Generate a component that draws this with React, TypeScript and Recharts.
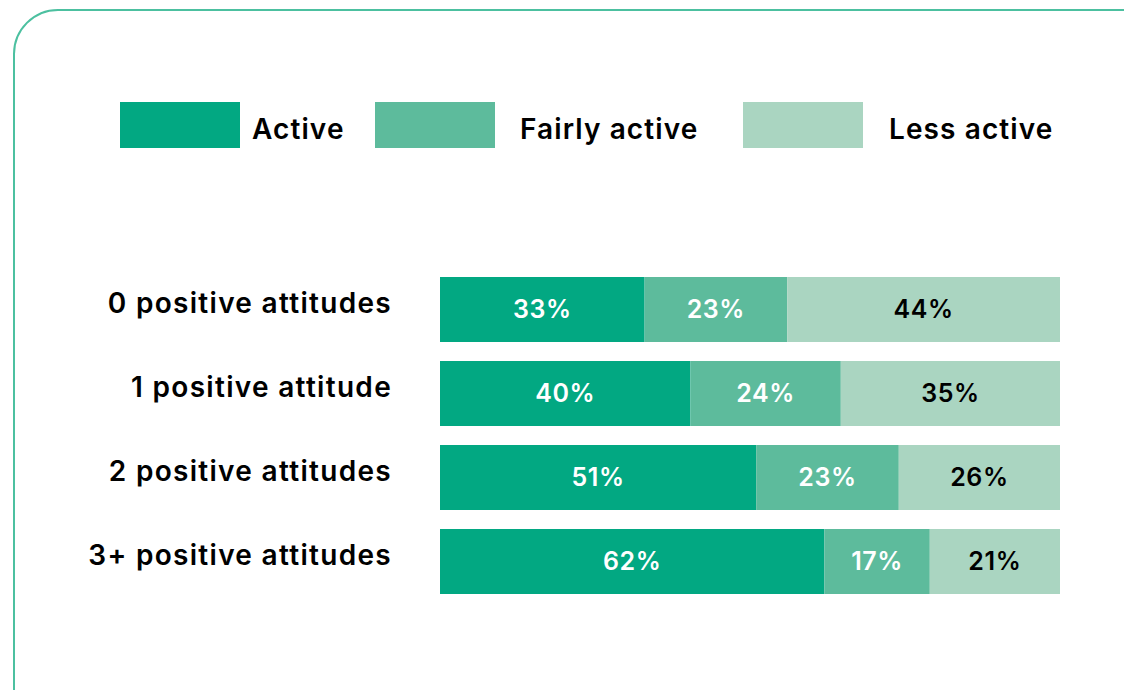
import { BarChart, Bar, XAxis, YAxis, LabelList } from 'recharts'

const categories = ['0 positive attitudes', '1 positive attitude', '2 positive attitudes', '3+ positive attitudes']
const active = [33, 40, 51, 62]
const fairlyActive = [23, 24, 23, 17]
const lessActive = [44, 35, 26, 21]

const seriesNames = ['Active', 'Fairly active', 'Less active']
const seriesColors = ['#02a882', '#5dbb9c', '#aad5c1']

const chartData = categories.map((name, i) => ({
  name,
  active: active[i],
  fairly: fairlyActive[i],
  less: lessActive[i],
}))

const FONT = 'Inter, "Open Sans", sans-serif'

const legendPos = [
  { box: 120, text: 252 },
  { box: 375, text: 520 },
  { box: 743, text: 889 },
]

function Legend() {
  return (
    <>
      {seriesNames.map((name, i) => (
        <div key={name}>
          <div
            style={{
              position: 'absolute',
              left: legendPos[i].box,
              top: 102,
              width: 120,
              height: 46,
              background: seriesColors[i],
            }}
          />
          <div
            style={{
              position: 'absolute',
              left: legendPos[i].text,
              top: 109,
              fontFamily: FONT,
              fontWeight: 600,
              fontSize: 28,
              letterSpacing: 1.1,
              color: '#000',
              lineHeight: '40px',
              whiteSpace: 'nowrap',
            }}
          >
            {name}
          </div>
        </div>
      ))}
    </>
  )
}

export default function App() {
  const pct = (v: any) => `${v}%`
  const labelStyle = { fontSize: 25, fontWeight: 600, fontFamily: FONT, letterSpacing: 0.6 }
  return (
    <div style={{ position: 'absolute', left: 0, top: 0, width: 1124, height: 690, overflow: 'hidden', background: '#fff' }}>
      <div
        style={{
          position: 'absolute',
          left: 13,
          top: 9,
          width: 1300,
          height: 900,
          border: '2px solid #4cc0a0',
          borderTopLeftRadius: 45,
        }}
      />
      <Legend />
      <div style={{ position: 'absolute', left: 0, top: 0 }}>
        <BarChart
          width={1124}
          height={690}
          data={chartData}
          layout="vertical"
          stackOffset="expand"
          barSize={65}
          margin={{ top: 267, right: 64, bottom: 87, left: 0 }}
        >
          <XAxis type="number" hide domain={[0, 1]} />
          <YAxis
            type="category"
            dataKey="name"
            width={440}
            axisLine={false}
            tickLine={false}
            tickSize={0}
            tickMargin={48}
            tick={{ fill: '#000', fontSize: 28, fontWeight: 600, fontFamily: FONT, letterSpacing: 1.3, dy: -6 }}
          />
          <Bar dataKey="active" stackId="a" fill={seriesColors[0]} isAnimationActive={false}>
            <LabelList dataKey="active" position="center" formatter={pct} fill="#fff" {...labelStyle} />
          </Bar>
          <Bar dataKey="fairly" stackId="a" fill={seriesColors[1]} isAnimationActive={false}>
            <LabelList dataKey="fairly" position="center" formatter={pct} fill="#fff" {...labelStyle} />
          </Bar>
          <Bar dataKey="less" stackId="a" fill={seriesColors[2]} isAnimationActive={false}>
            <LabelList dataKey="less" position="center" formatter={pct} fill="#000" {...labelStyle} />
          </Bar>
        </BarChart>
      </div>
    </div>
  )
}
